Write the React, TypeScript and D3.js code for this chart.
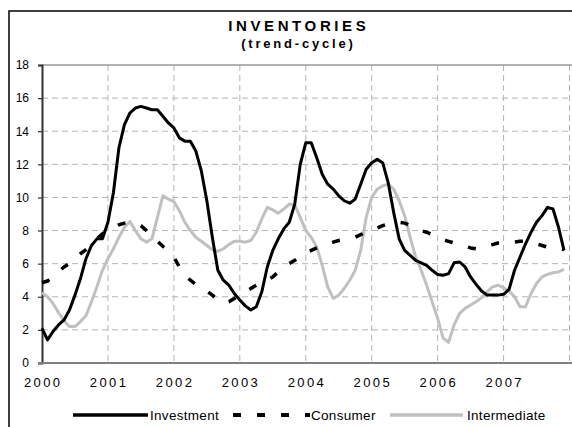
import React, { useEffect, useRef } from "react";
import * as d3 from "d3";

// monthly values, Jan 2000 .. Dec 2007
const years = ["2000", "2001", "2002", "2003", "2004", "2005", "2006", "2007"];
const yTicks = [0, 2, 4, 6, 8, 10, 12, 14, 16, 18];
const seriesNames = ["Investment", "Consumer", "Intermediate"];

const investment = [
  2.1, 1.4, 1.9, 2.3, 2.6, 3.2, 4.1, 5.1, 6.3, 7.1, 7.5, 7.5,
  8.5, 10.3, 13.0, 14.4, 15.1, 15.4, 15.5, 15.4, 15.3, 15.3, 14.9, 14.5,
  14.2, 13.6, 13.4, 13.4, 12.8, 11.6, 9.8, 7.6, 5.6, 5.0, 4.7, 4.2,
  3.8, 3.45, 3.2, 3.4, 4.3, 5.8, 6.8, 7.5, 8.1, 8.5, 9.6, 12.0,
  13.3, 13.3, 12.4, 11.4, 10.8, 10.5, 10.1, 9.8, 9.65, 9.9, 10.8, 11.7,
  12.1, 12.3, 12.1, 10.9, 9.1, 7.5, 6.8, 6.5, 6.2, 6.05, 5.9, 5.6,
  5.35, 5.3, 5.4, 6.05, 6.1, 5.8, 5.2, 4.75, 4.35, 4.1, 4.1, 4.1,
  4.15, 4.45, 5.6, 6.4, 7.2, 7.9, 8.5, 8.9, 9.4, 9.3, 8.2, 6.8,
];

const consumer = [
  4.85, 4.95, 5.2, 5.5, 5.8, 6.0, 6.3, 6.6, 6.85, 7.2, 7.5, 7.8,
  8.0, 8.2, 8.35, 8.45, 8.5, 8.45, 8.3, 8.0, 7.65, 7.35, 7.05, 6.8,
  6.4, 5.8, 5.3, 5.0, 4.75, 4.55, 4.35, 4.1, 3.8, 3.65, 3.7, 3.9,
  4.1, 4.3, 4.5, 4.7, 4.9, 5.0, 5.2, 5.5, 5.75, 6.0, 6.2, 6.45,
  6.65, 6.8, 6.95, 7.1, 7.2, 7.3, 7.4, 7.45, 7.5, 7.6, 7.75, 7.9,
  8.05, 8.15, 8.3, 8.4, 8.5, 8.5, 8.45, 8.3, 8.15, 8.0, 7.9, 7.75,
  7.6, 7.45, 7.35, 7.25, 7.15, 7.05, 6.95, 6.9, 6.95, 7.05, 7.15, 7.25,
  7.3, 7.3, 7.3, 7.35, 7.35, 7.3, 7.2, 7.1, 7.0, 6.95, 6.9, 6.85,
];

const intermediate = [
  4.25, 4.0, 3.6, 3.05, 2.55, 2.2, 2.2, 2.5, 2.85, 3.7, 4.6, 5.6,
  6.3, 6.9, 7.6, 8.2, 8.55, 8.0, 7.5, 7.3, 7.5, 8.8, 10.1, 9.9,
  9.75, 9.2, 8.5, 8.0, 7.6, 7.35, 7.1, 6.85, 6.75, 6.9, 7.15, 7.35,
  7.35, 7.3, 7.4, 7.9, 8.7, 9.4, 9.25, 9.05, 9.3, 9.6, 9.55, 8.8,
  8.0, 7.6, 7.0, 5.9, 4.6, 3.9, 4.1, 4.5, 5.0, 5.6, 6.8, 8.8,
  10.0, 10.5, 10.7, 10.8, 10.5, 9.8, 8.9, 7.6, 6.4, 5.6, 4.7, 3.7,
  2.7, 1.5, 1.25, 2.3, 3.0, 3.3, 3.5, 3.7, 3.95, 4.3, 4.6, 4.7,
  4.55, 4.35, 4.0, 3.4, 3.4, 4.2, 4.8, 5.2, 5.35, 5.45, 5.5, 5.65,
];

const font = "'Liberation Sans', Arial, sans-serif";

const App = () => {
  const svgRef = useRef<SVGSVGElement>(null);

  useEffect(() => {
    const svg = d3.select(svgRef.current);
    svg.selectAll("*").remove();

    const left = 42;
    const right = 572;
    const top = 65;
    const bottom = 363;

    const x = d3.scaleLinear().domain([0, 96]).range([left, 569.5]);
    const y = d3.scaleLinear().domain([0, 18]).range([bottom, top]);

    svg.append("rect").attr("width", 572).attr("height", 427).attr("fill", "#fff");

    // outer frame
    svg
      .append("rect")
      .attr("x", 9)
      .attr("y", 11)
      .attr("width", 600)
      .attr("height", 450)
      .attr("fill", "none")
      .attr("stroke", "#000")
      .attr("stroke-width", 1.5);

    // title
    svg
      .append("text")
      .attr("x", 297 + 1.8)
      .attr("y", 31)
      .attr("text-anchor", "middle")
      .style("font-family", font)
      .style("font-size", "15px")
      .style("font-weight", "bold")
      .style("letter-spacing", "3.6px")
      .text("INVENTORIES");
    svg
      .append("text")
      .attr("x", 297 + 1.4)
      .attr("y", 48)
      .attr("text-anchor", "middle")
      .style("font-family", font)
      .style("font-size", "13px")
      .style("font-weight", "bold")
      .style("letter-spacing", "2.8px")
      .text("(trend-cycle)");

    // grid
    const grid = svg.append("g").attr("stroke", "#b4b4b4").attr("stroke-dasharray", "6,4");
    grid
      .selectAll("line.h")
      .data(yTicks.filter((d) => d > 0 && d < 18))
      .join("line")
      .attr("x1", left)
      .attr("x2", right)
      .attr("y1", (d) => y(d))
      .attr("y2", (d) => y(d));
    grid
      .selectAll("line.v")
      .data(d3.range(1, 9).map((k) => k * 12))
      .join("line")
      .attr("class", "v")
      .attr("x1", (d) => x(d))
      .attr("x2", (d) => x(d))
      .attr("y1", top)
      .attr("y2", bottom);

    // plot area top border
    svg
      .append("line")
      .attr("x1", left)
      .attr("x2", right)
      .attr("y1", top)
      .attr("y2", top)
      .attr("stroke", "#999")
      .attr("stroke-width", 1.5);

    // y axis
    const yAxis = svg
      .append("g")
      .attr("transform", `translate(${left},0)`)
      .call(d3.axisLeft(y).tickValues(yTicks).tickSize(4).tickPadding(9));
    yAxis.select(".domain").attr("stroke", "#333").attr("stroke-width", 2);
    yAxis.selectAll(".tick line").attr("stroke", "#333").attr("stroke-width", 1.2);
    yAxis
      .selectAll(".tick text")
      .style("font-family", font)
      .style("font-size", "12px")
      .attr("fill", "#000");

    // x axis
    svg
      .append("line")
      .attr("x1", left - 4)
      .attr("x2", right)
      .attr("y1", bottom)
      .attr("y2", bottom)
      .attr("stroke", "#808080")
      .attr("stroke-width", 2);
    svg
      .selectAll("text.year")
      .data(years)
      .join("text")
      .attr("class", "year")
      .attr("x", (d, i) => x(i * 12) + 1.2)
      .attr("y", 387)
      .attr("text-anchor", "middle")
      .style("font-family", font)
      .style("font-size", "13px")
      .style("letter-spacing", "2.4px")
      .text((d) => d);

    const line = d3
      .line<number>()
      .x((d, i) => x(i))
      .y((d) => y(d));

    const styles = [
      { color: "#000", width: 3, dash: null as string | null },
      { color: "#000", width: 3.5, dash: "8,16" },
      { color: "#c0c0c0", width: 3, dash: null as string | null },
    ];
    const data = [investment, consumer, intermediate];

    // draw intermediate first, then consumer, then investment
    [2, 1, 0].forEach((k) => {
      svg
        .append("path")
        .datum(data[k])
        .attr("d", line)
        .attr("fill", "none")
        .attr("stroke", styles[k].color)
        .attr("stroke-width", styles[k].width)
        .attr("stroke-linejoin", "round")
        .attr("stroke-dasharray", styles[k].dash);
    });

    // legend
    const legendY = 415;
    const legendItems = [
      { x1: 73, x2: 148, tx: 150 },
      { x1: 233, x2: 310, tx: 311 },
      { x1: 390, x2: 463, tx: 467 },
    ];
    const lg = svg.append("g");
    legendItems.forEach((it, k) => {
      lg.append("line")
        .attr("x1", it.x1)
        .attr("x2", it.x2)
        .attr("y1", legendY)
        .attr("y2", legendY)
        .attr("stroke", styles[k].color)
        .attr("stroke-width", styles[k].width + 0.5)
        .attr("stroke-dasharray", styles[k].dash);
      lg.append("text")
        .attr("x", it.tx)
        .attr("y", legendY + 5)
        .style("font-family", font)
        .style("font-size", "13.5px")
        .style("letter-spacing", "0.3px")
        .text(seriesNames[k]);
    });
  }, []);

  return (
    <svg
      ref={svgRef}
      width={572}
      height={427}
      style={{ position: "absolute", left: 0, top: 0, display: "block" }}
    />
  );
};

export default App;
